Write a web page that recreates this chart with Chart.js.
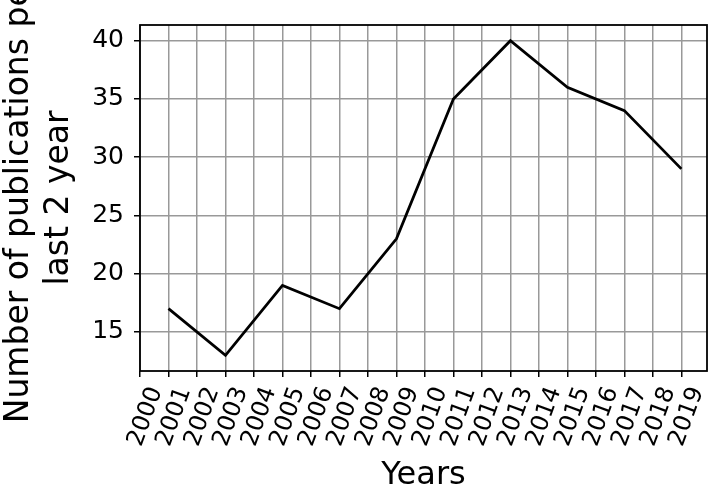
<!DOCTYPE html>
<html>
<head>
<meta charset="utf-8">
<script src="https://cdn.jsdelivr.net/npm/chart.js@4/dist/chart.umd.min.js"></script>
<style>
html,body{margin:0;padding:0;background:#fff;}
#wrap{width:708px;height:492px;}
</style>
</head>
<body>
<div id="wrap"><canvas id="c" width="708" height="492"></canvas></div>
<script>
const years = [2001, 2003, 2005, 2007, 2009, 2011, 2013, 2015, 2017, 2019];
const publications = [17, 13, 19, 17, 23, 35, 40, 36, 34, 29];
const xTicks = [2000,2001,2002,2003,2004,2005,2006,2007,2008,2009,2010,2011,2012,2013,2014,2015,2016,2017,2018,2019];
const yTicks = [15, 20, 25, 30, 35, 40];
const xTitle = 'Years';
const yTitle = ['Number of publications per', 'last 2 year'];

const FONT = 'DejaVu Sans';

const frame = {
  id: 'frame',
  afterDatasetsDraw(chart) {
    const {ctx, chartArea: a} = chart;
    ctx.save();
    ctx.strokeStyle = '#000';
    ctx.lineWidth = 1.8;
    ctx.strokeRect(a.left, a.top, a.right - a.left, a.bottom - a.top);
    ctx.restore();
  }
};

new Chart(document.getElementById('c'), {
  type: 'line',
  data: {
    datasets: [{
      data: years.map((y, i) => ({x: y, y: publications[i]})),
      borderColor: '#000',
      borderWidth: 2.8,
      pointRadius: 0,
      tension: 0,
      fill: false
    }]
  },
  options: {
    responsive: false,
    animation: false,
    devicePixelRatio: 1,
    layout: {padding: {top: 25, right: 1, left: 0, bottom: 0}},
    plugins: {legend: {display: false}, tooltip: {enabled: false}},
    scales: {
      x: {
        type: 'linear',
        min: 2000,
        max: 2019.9,
        afterBuildTicks: s => { s.ticks = xTicks.map(v => ({value: v})); },
        afterFit: s => { s.height = 121; s.paddingLeft = 0; s.paddingRight = 0; },
        grid: {color: '#999999', lineWidth: 1.5, tickColor: '#000', tickLength: 6, drawTicks: true},
        border: {display: false},
        ticks: {
          autoSkip: false,
          minRotation: 70,
          maxRotation: 70,
          labelOffset: 16,
          padding: 6,
          color: '#000',
          font: {family: FONT, size: 24},
          callback: v => String(v)
        },
        title: {display: true, text: xTitle, color: '#000', font: {family: FONT, size: 32, lineHeight: 1.0}, padding: {top: 0, bottom: 0}}
      },
      y: {
        type: 'linear',
        min: 11.65,
        max: 41.35,
        afterBuildTicks: s => { s.ticks = yTicks.map(v => ({value: v})); },
        afterFit: s => { s.width = 140; s.paddingTop = 0; s.paddingBottom = 0; },
        grid: {color: '#999999', lineWidth: 1.5, tickColor: '#000', tickLength: 6},
        border: {display: false},
        ticks: {
          padding: 10,
          color: '#000',
          font: {family: FONT, size: 25},
          callback: v => String(v)
        },
        title: {display: true, text: yTitle, color: '#000', font: {family: FONT, size: 33, lineHeight: 1.2}, padding: {top: 0, bottom: 0}}
      }
    }
  },
  plugins: [frame]
});
</script>
</body>
</html>
